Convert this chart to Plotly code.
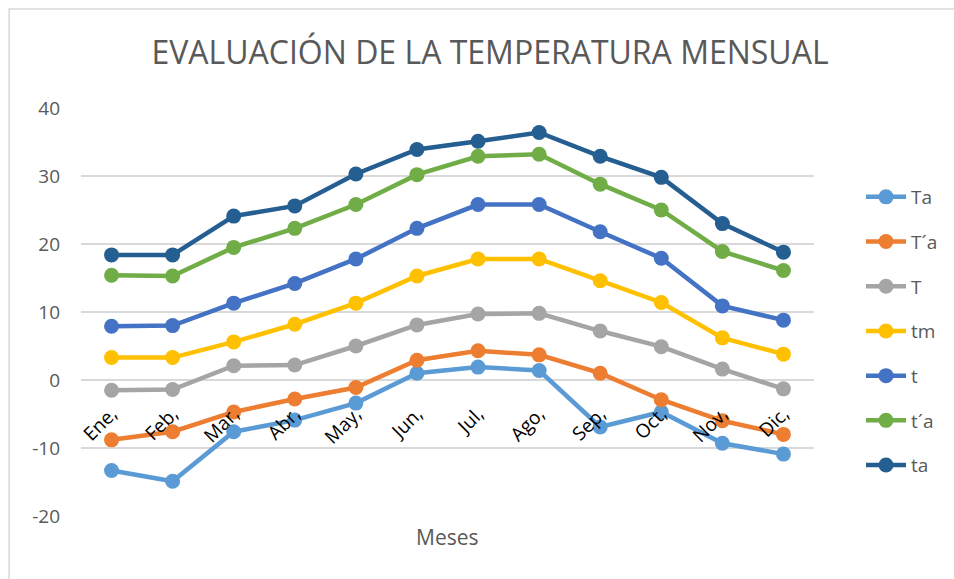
import plotly.graph_objects as go

months = ["Ene,", "Feb,", "Mar,", "Abr,", "May,", "Jun,", "Jul,", "Ago,", "Sep,", "Oct,", "Nov,", "Dic,"]

Ta = [-13.3, -14.9, -7.6, -5.9, -3.4, 1.0, 1.9, 1.4, -6.9, -4.7, -9.3, -10.9]
T_a = [-8.8, -7.6, -4.7, -2.8, -1.1, 2.9, 4.3, 3.7, 1.0, -2.9, -6.0, -8.0]
T = [-1.5, -1.4, 2.1, 2.2, 5.0, 8.1, 9.7, 9.8, 7.2, 4.9, 1.6, -1.3]
tm = [3.3, 3.3, 5.6, 8.2, 11.3, 15.3, 17.8, 17.8, 14.6, 11.4, 6.2, 3.8]
t = [7.9, 8.0, 11.3, 14.2, 17.8, 22.3, 25.8, 25.8, 21.8, 17.9, 10.9, 8.8]
t_a = [15.4, 15.3, 19.5, 22.3, 25.8, 30.2, 32.9, 33.2, 28.8, 25.0, 18.9, 16.1]
ta = [18.4, 18.4, 24.1, 25.6, 30.3, 33.9, 35.1, 36.4, 32.9, 29.8, 23.0, 18.8]

y_ticks = [-20, -10, 0, 10, 20, 30, 40]
y_tick_labels = ["-20", "-10", "0", "10", "20", "30", "40"]

series_names = ["Ta", "T\u00b4a", "T", "tm", "t", "t\u00b4a", "ta"]
series_values = [Ta, T_a, T, tm, t, t_a, ta]
colors = ["#5B9BD5", "#ED7D31", "#A5A5A5", "#FFC000", "#4472C4", "#70AD47", "#255E91"]

FONT = "Open Sans"

fig = go.Figure()
for name, vals, col in zip(series_names, series_values, colors):
    fig.add_trace(go.Scatter(
        x=months, y=vals, name=name, mode="lines+markers",
        legendgroup=name,
        line=dict(color=col, width=4.5),
        marker=dict(color=col, size=15),
    ))

W, H = 954, 579
L, R, TOP, B = 81, 139, 108, 63
PW, PH = W - L - R, H - TOP - B

fig.update_layout(
    width=W, height=H,
    margin=dict(l=L, r=R, t=TOP, b=B),
    paper_bgcolor="white", plot_bgcolor="white",
    font=dict(family=FONT, color="#595959", size=15),
    title=dict(text="EVALUACIÓN DE LA TEMPERATURA MENSUAL",
               font=dict(family=FONT, size=32, color="#595959"),
               x=490 / W, xanchor="center", y=1 - 53 / H, yanchor="middle"),
    legend=dict(x=1 + 46 / PW, xanchor="left", y=(516 - 331) / PH, yanchor="middle",
                font=dict(family=FONT, size=19, color="#595959"),
                tracegroupgap=17, itemwidth=40,
                bgcolor="rgba(0,0,0,0)"),
    showlegend=True,
    xaxis=dict(
        type="category", anchor="free", position=1 / 3,
        showgrid=False, showline=False, zeroline=False,
        ticks="", tickangle=-45,
        tickfont=dict(family=FONT, size=19, color="#000000"),
        ticklabelstandoff=18,
        range=[-0.5, 11.5],
    ),
    yaxis=dict(
        range=[-20, 40], tickmode="array", tickvals=y_ticks, ticktext=y_tick_labels,
        showgrid=True, gridcolor="#D9D9D9", gridwidth=1.5,
        zeroline=False, showline=False, ticks="",
        tickfont=dict(family=FONT, size=19, color="#595959"),
        ticklabelstandoff=20,
    ),
    shapes=[dict(type="rect", xref="paper", yref="paper",
                 x0=-(L - 9) / PW, x1=1 + (R + 20) / PW,
                 y0=-(B + 20) / PH, y1=1 + (TOP - 9) / PH,
                 line=dict(color="#D9D9D9", width=1.5), layer="below")],
    annotations=[dict(text="Meses", xref="paper", yref="paper",
                      x=0.5, y=-(537 - 516) / PH, yanchor="middle",
                      showarrow=False,
                      font=dict(family=FONT, size=21, color="#595959"))],
)

fig.write_html("out.html", config={"displayModeBar": False},
               post_script="document.body.style.margin='0';")
